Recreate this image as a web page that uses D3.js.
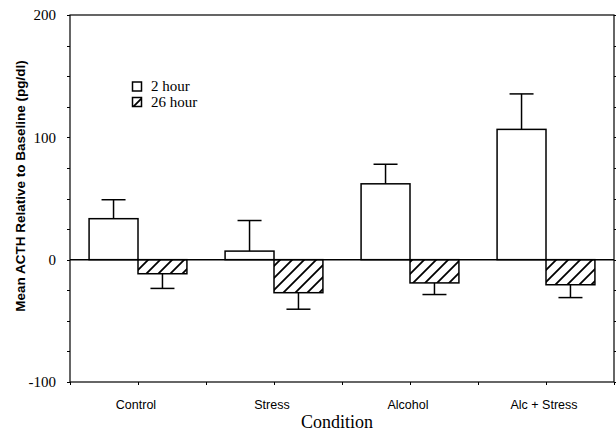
<!DOCTYPE html>
<meta charset="utf-8">
<script src="https://d3js.org/d3.v7.min.js"></script>
<style>
  body { margin: 0; background: #fff; }
</style>
<svg id="chart" width="616" height="431"></svg>
<script>
// data
var conditions = ["Control", "Stress", "Alcohol", "Alc + Stress"];
var series = ["2 hour", "26 hour"];
var means2h  = [33.5, 7, 62, 106.5];
var err2h    = [15.5, 25, 16, 29];
var means26h = [-11.5, -27, -19, -20.5];
var err26h   = [12, 13.5, 9.5, 10.5];
var yTicks = [200, 100, 0, -100];

var svg = d3.select("#chart");

var plotL = 70, plotR = 614, plotT = 15, plotB = 382;

var x0 = d3.scaleBand().domain(conditions).range([plotL, plotR]);
var x1 = d3.scaleBand().domain(series).range([0, x0.bandwidth()]).paddingOuter(0.39);
var y = d3.scaleLinear().domain([-100, 200]).range([plotB, plotT]);

// hatch pattern
var defs = svg.append("defs");
defs.append("pattern")
    .attr("id", "hatch")
    .attr("patternUnits", "userSpaceOnUse")
    .attr("width", 12).attr("height", 12)
  .append("path")
    .attr("d", "M0,12 L12,0 M-3,3 L3,-3 M9,15 L15,9")
    .attr("stroke", "#000")
    .attr("stroke-width", 1.8);

var rows = conditions.map(function(c, i) {
  return [
    {cond: c, s: "2 hour", v: means2h[i], e: err2h[i]},
    {cond: c, s: "26 hour", v: means26h[i], e: err26h[i]}
  ];
});
var flat = [].concat.apply([], rows);

// frame
svg.append("rect")
    .attr("x", plotL).attr("y", plotT)
    .attr("width", plotR - plotL).attr("height", plotB - plotT)
    .attr("fill", "none").attr("stroke", "#000").attr("stroke-width", 1.2);

// y axis ticks (minor every 25)
var minor = d3.range(-100, 201, 25);
svg.append("g").selectAll("line")
  .data(minor).enter().append("line")
    .attr("x1", plotL - 3).attr("x2", plotL)
    .attr("y1", function(d){ return Math.round(y(d)) + 0.5; })
    .attr("y2", function(d){ return Math.round(y(d)) + 0.5; })
    .attr("stroke", "#000");
svg.append("g").selectAll("line")
  .data(minor).enter().append("line")
    .attr("x1", plotR).attr("x2", plotR + 3)
    .attr("y1", function(d){ return Math.round(y(d)) + 0.5; })
    .attr("y2", function(d){ return Math.round(y(d)) + 0.5; })
    .attr("stroke", "#000");

svg.append("g").selectAll("text")
  .data(yTicks).enter().append("text")
    .attr("x", 56)
    .attr("y", function(d){ return y(d); })
    .attr("dy", "0.35em")
    .attr("text-anchor", "end")
    .style("font-family", "'Liberation Serif', serif")
    .style("font-size", "15px")
    .text(function(d){ return d; });

// x axis ticks at band edges and centres
var xt = [];
conditions.forEach(function(c) {
  xt.push(x0(c));
  xt.push(x0(c) + x0.bandwidth() / 2);
});
xt.push(plotR);
svg.append("g").selectAll("line")
  .data(xt).enter().append("line")
    .attr("x1", function(d){ return Math.round(d) + 0.5; })
    .attr("x2", function(d){ return Math.round(d) + 0.5; })
    .attr("y1", plotB).attr("y2", plotB + 3)
    .attr("stroke", "#000");

svg.append("g").selectAll("text")
  .data(conditions).enter().append("text")
    .attr("x", function(d){ return x0(d) + x0.bandwidth() / 2 - 2; })
    .attr("y", 409)
    .attr("text-anchor", "middle")
    .style("font-family", "'Liberation Sans', Arial, sans-serif")
    .style("font-size", "12.5px")
    .text(function(d){ return d; });

svg.append("text")
    .attr("x", 337)
    .attr("y", 427.5)
    .attr("text-anchor", "middle")
    .style("font-family", "'Liberation Serif', serif")
    .style("font-size", "18px")
    .text("Condition");

svg.append("text")
    .attr("transform", "translate(25,186) rotate(-90)")
    .attr("text-anchor", "middle")
    .style("font-family", "'Liberation Sans', Arial, sans-serif")
    .style("font-weight", "bold")
    .style("font-size", "13.5px")
    .text("Mean ACTH Relative to Baseline (pg/dl)");

// bars
var g = svg.append("g");
g.selectAll("rect.bar")
  .data(flat).enter().append("rect")
    .attr("class", "bar")
    .attr("x", function(d){ return x0(d.cond) + x1(d.s); })
    .attr("width", x1.bandwidth())
    .attr("y", function(d){ return y(Math.max(0, d.v)); })
    .attr("height", function(d){ return Math.abs(y(d.v) - y(0)); })
    .attr("fill", function(d){ return d.s === "2 hour" ? "#fff" : "url(#hatch)"; })
    .attr("stroke", "#000")
    .attr("stroke-width", 1.5);

// error bars (one-sided)
flat.forEach(function(d) {
  var cx = x0(d.cond) + x1(d.s) + x1.bandwidth() / 2;
  var dir = d.v >= 0 ? 1 : -1;
  var y1 = y(d.v), y2 = y(d.v + dir * d.e);
  g.append("line")
    .attr("x1", cx).attr("x2", cx)
    .attr("y1", y1).attr("y2", y2)
    .attr("stroke", "#000").attr("stroke-width", 1.5);
  g.append("line")
    .attr("x1", cx - 12).attr("x2", cx + 12)
    .attr("y1", y2).attr("y2", y2)
    .attr("stroke", "#000").attr("stroke-width", 1.5);
});

// zero line
svg.append("line")
    .attr("x1", plotL).attr("x2", plotR)
    .attr("y1", y(0)).attr("y2", y(0))
    .attr("stroke", "#000").attr("stroke-width", 1.5);

// legend
var legend = svg.append("g");
series.forEach(function(s, i) {
  var ly = 82 + i * 15.5;
  legend.append("rect")
    .attr("x", 132.5).attr("y", ly)
    .attr("width", 9).attr("height", 9)
    .attr("fill", i === 0 ? "#fff" : "url(#hatch)")
    .attr("stroke", "#000").attr("stroke-width", 1.5);
  legend.append("text")
    .attr("x", 151).attr("y", ly + 9)
    .style("font-family", "'Liberation Serif', serif")
    .style("font-size", "15px")
    .text(s);
});
</script>
